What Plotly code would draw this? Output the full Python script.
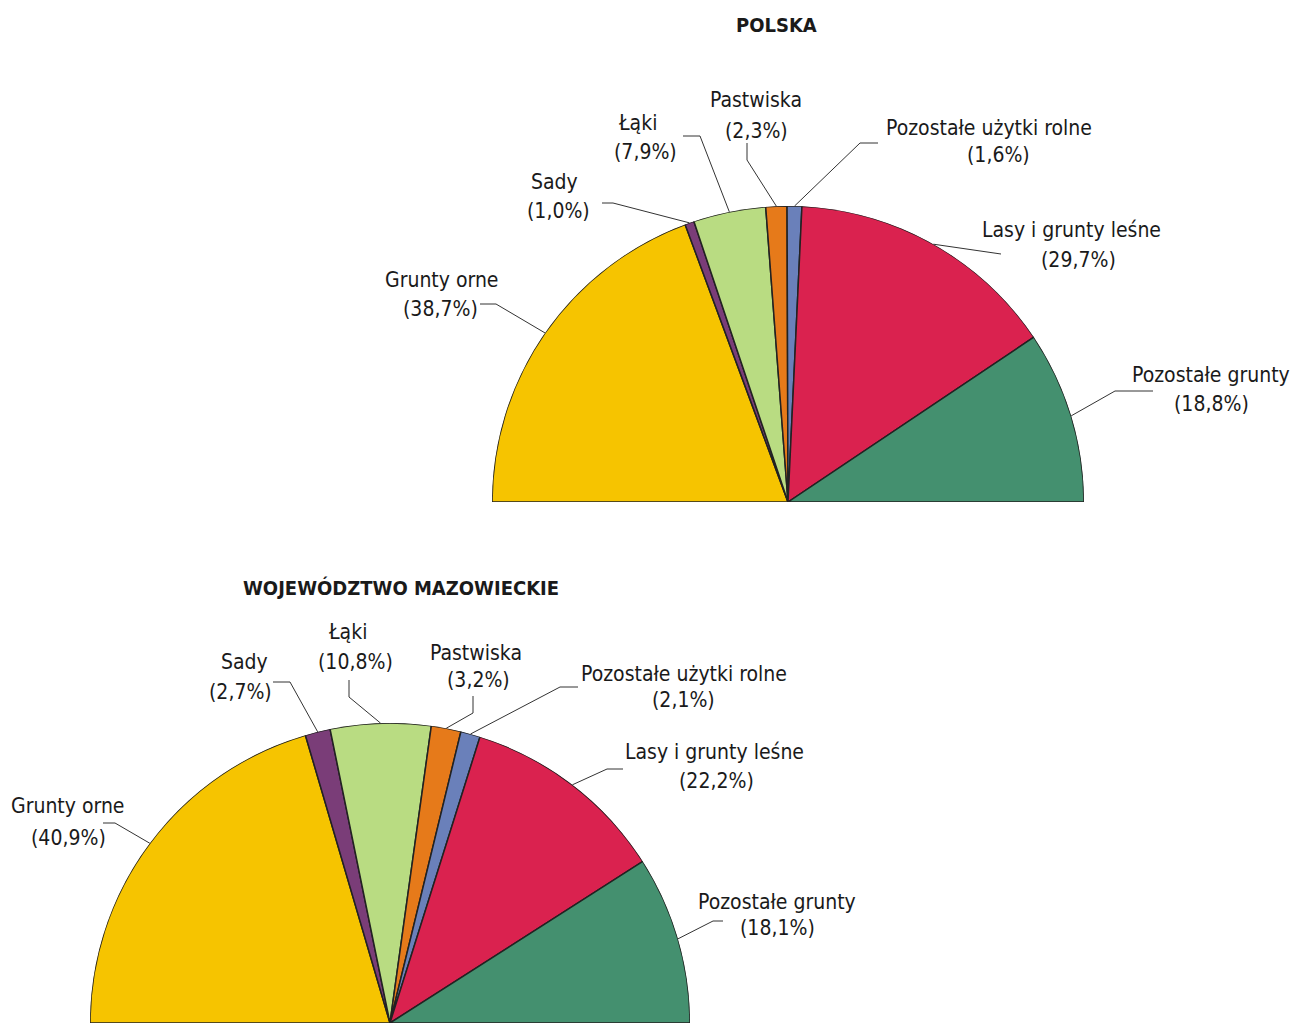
import math
import plotly.graph_objects as go

# ---------------- data ----------------
categories = ["Grunty orne", "Sady", "Łąki", "Pastwiska",
              "Pozostałe użytki rolne", "Lasy i grunty leśne", "Pozostałe grunty"]
polska = [38.7, 1.0, 7.9, 2.3, 1.6, 29.7, 18.8]
mazowieckie = [40.9, 2.7, 10.8, 3.2, 2.1, 22.2, 18.1]
titles = ["POLSKA", "WOJEWÓDZTWO MAZOWIECKIE"]

colors = ["#F6C400", "#7A3D78", "#B9DC82", "#E67A1A", "#6A80BA", "#DA224F", "#44906F"]

# ---------------- layout constants (pixels) ----------------
W, H = 1293, 1023
FONT = "DejaVu Sans Condensed, Liberation Sans Narrow, sans-serif"
TXT = "#1a1a1a"
LINE = "#333333"
FS = 21

charts = [
    dict(values=polska, cx=788, cy=502, r=296, polar="polar",
         title_pos=(776, 25),
         name_pos=[(442, 280), (554, 182), (637, 123), (756, 100),
                   (989, 128), (1071, 230), (1211, 375)],
         pct_pos=[(440, 309), (558, 211), (645, 152), (756, 131),
                  (998, 155), (1078, 260), (1211, 404)],
         leaders=[[(480, 304), (496, 304)], [(602, 203), (613, 203)],
                  [(683, 136), (700, 136)], [(747, 143), (747, 160)],
                  [(878, 143), (860, 143)], [(1001, 254)],
                  [(1153, 391), (1115, 391)]]),
    dict(values=mazowieckie, cx=390, cy=1023, r=300, polar="polar2",
         title_pos=(401, 588),
         name_pos=[(68, 806), (244, 662), (347, 632), (476, 653),
                   (684, 674), (714, 752), (777, 902)],
         pct_pos=[(68, 838), (240, 692), (355, 662), (478, 680),
                  (683, 700), (716, 781), (777, 928)],
         leaders=[[(103, 823), (115, 823)], [(273, 682), (290, 682)],
                  [(349, 680), (349, 697)], [(473, 696), (473, 713)],
                  [(578, 687), (560, 687)], [(623, 769), (607, 769)],
                  [(723, 921), (713, 921)]]),
]

fig = go.Figure()
annotations = []
layout_polars = {}

for ci, ch in enumerate(charts):
    vals = ch["values"]
    cum = 0.0
    thetas, widths, mids = [], [], []
    for v in vals:
        thetas.append((cum + v / 2) * 1.8)
        widths.append(v * 1.8)
        mids.append(cum + v / 2)
        cum += v
    fig.add_trace(go.Barpolar(
        r=[1] * len(vals), theta=thetas, width=widths, base=0,
        marker=dict(color=colors, line=dict(color="#222222", width=1.5)),
        subplot=ch["polar"], hoverinfo="skip", showlegend=False,
    ))
    cx, cy, r = ch["cx"], ch["cy"], ch["r"]
    layout_polars[ch["polar"]] = dict(
        domain=dict(x=[(cx - r) / W, (cx + r) / W],
                    y=[(H - cy) / H, (H - cy + r) / H]),
        sector=[0, 180], hole=0, bgcolor="rgba(0,0,0,0)",
        radialaxis=dict(visible=False, range=[0, 1]),
        angularaxis=dict(visible=False, rotation=180, direction="clockwise"),
        bargap=0,
    )
    # leader lines: from label elbow to arc at slice middle
    for i, m in enumerate(mids):
        ang = math.radians(180 - m * 1.8)
        ax = cx + r * math.cos(ang)
        ay = cy - r * math.sin(ang)
        pts = ch["leaders"][i] + [(ax, ay)]
        fig.add_trace(go.Scatter(
            x=[p[0] for p in pts], y=[p[1] for p in pts], mode="lines",
            line=dict(color=LINE, width=1), hoverinfo="skip", showlegend=False,
            xaxis="x", yaxis="y",
        ))
        pct = f"({vals[i]:.1f}%)".replace(".", ",")
        for (lx, ly), txt in ((ch["name_pos"][i], categories[i]), (ch["pct_pos"][i], pct)):
            annotations.append(dict(
                x=lx, y=ly, xref="x", yref="y", text=txt,
                showarrow=False, xanchor="center", yanchor="middle",
                font=dict(family=FONT, size=FS, color=TXT),
            ))
    tx, ty = ch["title_pos"]
    annotations.append(dict(
        x=tx, y=ty, xref="x", yref="y", text=f"<b>{titles[ci]}</b>",
        showarrow=False, xanchor="center", yanchor="middle",
        font=dict(family=FONT, size=20, color=TXT),
    ))

fig.update_layout(
    width=W, height=H, margin=dict(l=0, r=0, t=0, b=0),
    paper_bgcolor="white", plot_bgcolor="rgba(0,0,0,0)",
    xaxis=dict(range=[0, W], visible=False, domain=[0, 1], fixedrange=True),
    yaxis=dict(range=[H, 0], visible=False, domain=[0, 1], fixedrange=True),
    annotations=annotations,
    **layout_polars,
)

fig.write_html("out.html", config={"displayModeBar": False},
               post_script="document.body.style.margin='0';document.body.style.overflow='hidden';")
